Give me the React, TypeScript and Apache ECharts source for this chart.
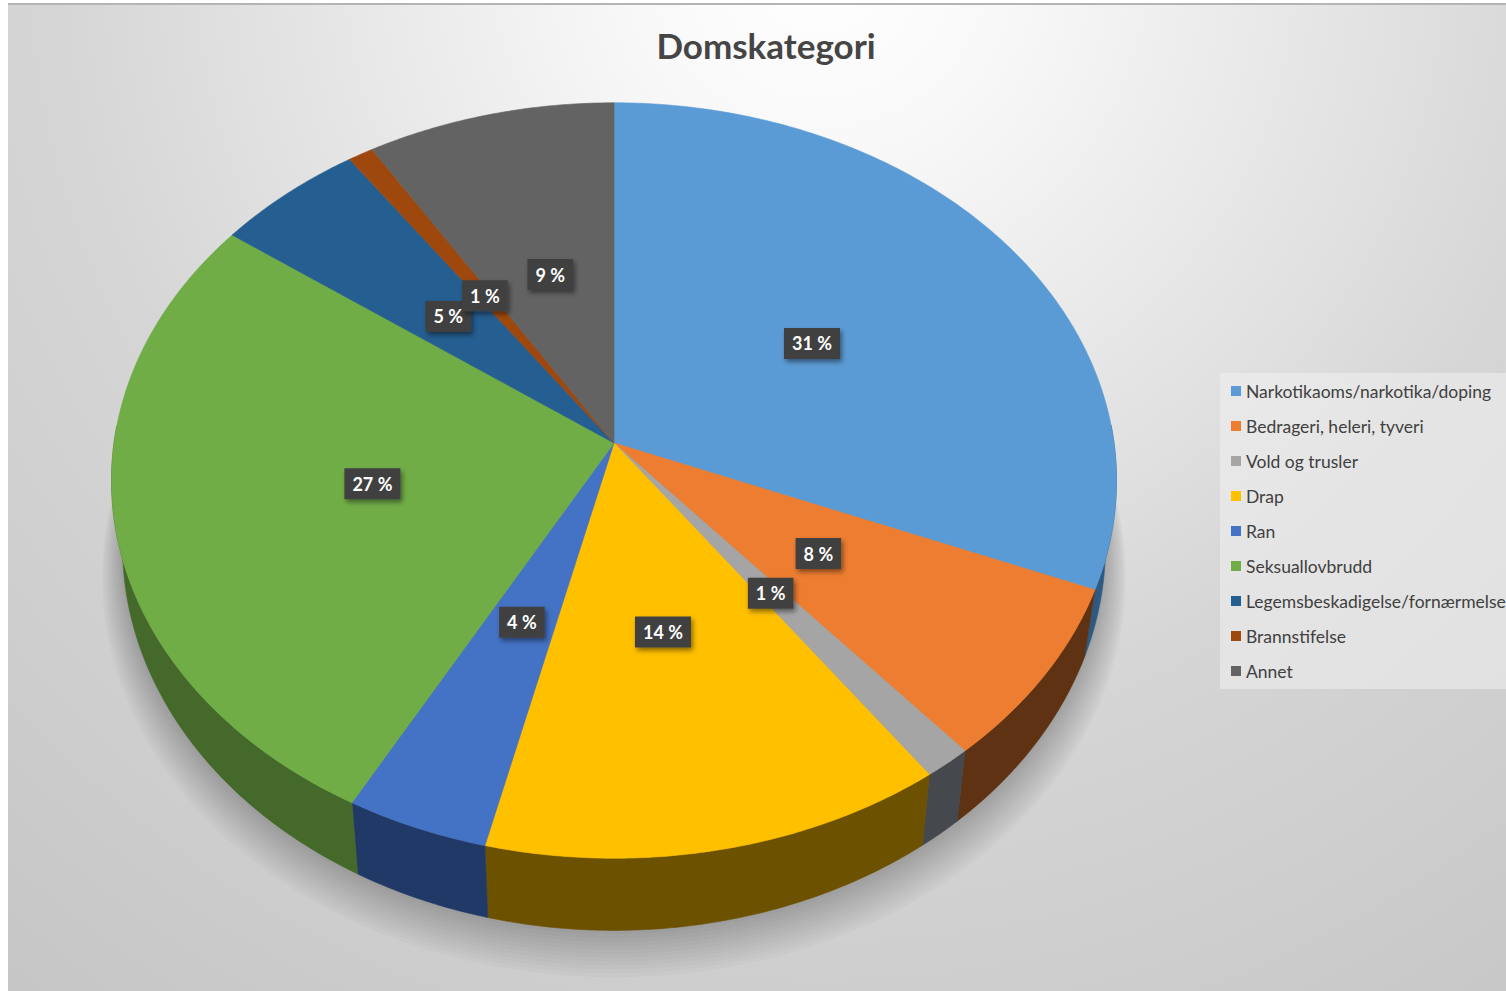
import React, { useEffect, useRef } from "react";
import * as echarts from "echarts";

const title = "Domskategori";
const categories = [
  "Narkotikaoms/narkotika/doping",
  "Bedrageri, heleri, tyveri",
  "Vold og trusler",
  "Drap",
  "Ran",
  "Seksuallovbrudd",
  "Legemsbeskadigelse/fornærmelse",
  "Brannstifelse",
  "Annet",
];
const shares = [31.2, 7.6, 1.4, 13.6, 4.2, 27.1, 5.3, 0.9, 8.8];

const topColors = ["#5b9bd5", "#ed7d31", "#a5a5a5", "#ffc000", "#4472c4", "#70ad47", "#255e91", "#9e480e", "#636363"];
const sideColors = ["#2e5a82", "#5f3214", "#45484c", "#6b5100", "#213966", "#44692b", "#163a5a", "#5a2808", "#383838"];

const W = 1506;
const H = 991;
const CX = 614;
const CY = 443;
const RX = 500;
const RY = 374;
const PERSP = 0.0993;
const DEPTH = 65;
const BOTTOM_SCALE = 0.978;
const LABEL_R = 0.49;

const total = shares.reduce((a, b) => a + b, 0);
const starts: number[] = [];
{
  let acc = 0;
  for (const s of shares) {
    starts.push(acc);
    acc += s;
  }
}

function project(phi: number, r: number) {
  const u = r * Math.sin(phi);
  const v = -r * Math.cos(phi);
  const f = 1 / (1 - PERSP * v);
  return { x: CX + RX * u * f, y: CY + RY * v * f, v, f };
}
function bottomOf(p: { x: number; y: number; f: number }) {
  return [CX + (p.x - CX) * BOTTOM_SCALE, p.y + DEPTH * p.f];
}

function sliceRender(i: number) {
  return () => {
    const a0 = (starts[i] / total) * Math.PI * 2;
    const a1 = ((starts[i] + shares[i]) / total) * Math.PI * 2;
    const n = Math.max(2, Math.ceil((a1 - a0) / (Math.PI / 360)));
    const pts = [];
    for (let k = 0; k <= n; k++) pts.push(project(a0 + ((a1 - a0) * k) / n, 1));
    const children: any[] = [];
    let run: any[] = [];
    const flush = () => {
      if (run.length >= 2) {
        const poly = run.map((p) => [p.x, p.y]).concat(run.slice().reverse().map(bottomOf));
        children.push({
          type: "polygon",
          shape: { points: poly },
          style: { fill: sideColors[i], stroke: sideColors[i], lineWidth: 0.6 },
        });
      }
      run = [];
    };
    for (const p of pts) {
      if (p.v > -0.05) run.push(p);
      else flush();
    }
    flush();
    const top = [[CX, CY]].concat(pts.map((p) => [p.x, p.y]));
    children.push({
      type: "polygon",
      shape: { points: top },
      style: { fill: topColors[i], stroke: topColors[i], lineWidth: 0.6 },
    });
    return { type: "group", children };
  };
}

function labelRender(params: any) {
  const i = params.dataIndex;
  const mid = ((starts[i] + shares[i] / 2) / total) * Math.PI * 2;
  const p = project(mid, LABEL_R);
  const pct = Math.round((shares[i] / total) * 100) + " %";
  return {
    type: "text",
    x: p.x,
    y: p.y,
    style: {
      text: pct,
      fill: "#ffffff",
      fontSize: 18,
      fontWeight: "bold",
      fontFamily: "Lato, 'Open Sans', sans-serif",
      align: "center",
      verticalAlign: "middle",
      backgroundColor: "#404040",
      padding: [7, 8, 6, 8],
      shadowBlur: 5,
      shadowColor: "rgba(0,0,0,0.45)",
      shadowOffsetX: 2,
      shadowOffsetY: 3,
    },
  };
}

export default function App() {
  const ref = useRef<HTMLDivElement>(null);
  useEffect(() => {
    if (!ref.current) return;
    const chart = echarts.init(ref.current, undefined, { renderer: "svg" });

    const ring: number[][] = [];
    for (let k = 0; k < 360; k++) {
      const p = project((k / 360) * Math.PI * 2, 1);
      ring.push(bottomOf(p));
    }
    const shadowLayers: any[] = [];
    for (let k = 1; k <= 12; k++) {
      const s = 1 + 0.0035 * k;
      shadowLayers.push({
        type: "polygon",
        shape: {
          points: ring.map(([x, y]) => [CX + (x - CX) * s, CY + (y - CY) * s + 2.2 * k]),
        },
        style: { fill: "rgba(0,0,0,0.02)" },
      });
    }

    const series: any[] = categories.map((name, i) => ({
      type: "custom",
      name,
      coordinateSystem: "none",
      silent: true,
      z: 2,
      itemStyle: { color: topColors[i] },
      data: [[shares[i]]],
      renderItem: sliceRender(i),
    }));
    series.push({
      type: "custom",
      name: "labels",
      coordinateSystem: "none",
      silent: true,
      z: 10,
      data: shares.map((s) => [s]),
      renderItem: labelRender,
    });

    chart.setOption({
      animation: false,
      color: topColors,
      graphic: [
        {
          type: "rect",
          shape: { x: 8, y: 4, width: W - 8, height: H - 4 },
          style: {
            fill: {
              type: "radial",
              x: 820,
              y: -40,
              r: 1300,
              global: true,
              colorStops: [
                { offset: 0, color: "#ffffff" },
                { offset: 0.15, color: "#f8f8f8" },
                { offset: 0.58, color: "#d6d6d6" },
                { offset: 1, color: "#c6c6c6" },
              ],
            },
          },
        },
        {
          type: "rect",
          shape: { x: 8, y: 3, width: W - 8, height: 2 },
          style: { fill: "#b4b4b4" },
        },
        ...shadowLayers,
        {
          type: "text",
          x: 766,
          y: 45,
          style: {
            text: title,
            fill: "#454545",
            fontSize: 35,
            fontWeight: "bold",
            fontFamily: "Lato, 'Open Sans', sans-serif",
            align: "center",
            verticalAlign: "middle",
          },
        },
      ],
      legend: {
        data: categories,
        orient: "vertical",
        left: 1220,
        top: 373,
        itemWidth: 10,
        itemHeight: 10,
        itemGap: 17,
        icon: "rect",
        selectedMode: false,
        backgroundColor: "rgba(240,240,240,0.55)",
        padding: [9, 20, 9, 11],
        textStyle: {
          fontFamily: "Lato, 'Open Sans', sans-serif",
          fontSize: 17.5,
          color: "#404040",
          lineHeight: 18,
        },
      },
      series,
    });
    return () => chart.dispose();
  }, []);
  return (
    <div
      ref={ref}
      style={{ position: "absolute", left: 0, top: 0, width: W, height: H, background: "#ffffff" }}
    />
  );
}
